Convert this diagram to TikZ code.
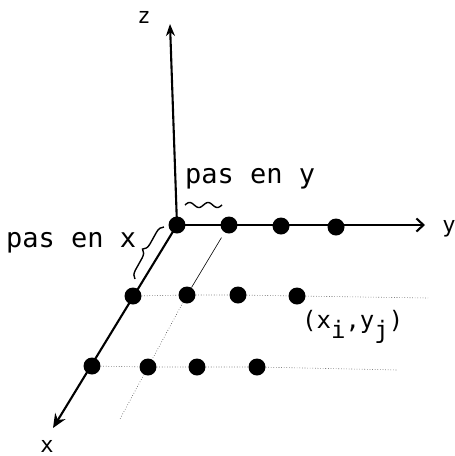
\documentclass[tikz,border=0pt]{standalone}
\usepackage{fontspec}
\setmonofont{DejaVu Sans Mono}
\usetikzlibrary{arrows.meta,decorations.pathreplacing}
\begin{document}
\begin{tikzpicture}[x=1pt,y=-1pt,
  pt/.style={circle,fill=black,inner sep=0pt,minimum size=17pt},
  axis/.style={line width=2.1pt},
  grid/.style={line width=0.6pt,dotted,black!75},
  lbl/.style={inner sep=0pt,font=\ttfamily\fontsize{27}{27}\selectfont},
  clbl/.style={inner sep=0pt,font=\ttfamily\fontsize{24}{24}\selectfont},
  albl/.style={inner sep=0pt,font=\ttfamily\fontsize{22}{22}\selectfont}]
\useasboundingbox (0,0) rectangle (455,456);
% dots
\node[pt] (o)  at (177,225) {};
\node[pt] (a1) at (229,225) {};
\node[pt] (a2) at (281,226) {};
\node[pt] (a3) at (336,227) {};
\node[pt] (b0) at (133,296) {};
\node[pt] (b1) at (187,295) {};
\node[pt] (b2) at (238,295) {};
\node[pt] (b3) at (297,296) {};
\node[pt] (c0) at (92,366) {};
\node[pt] (c1) at (148,367) {};
\node[pt] (c2) at (197,367) {};
\node[pt] (c3) at (257,367) {};
\coordinate (ztip) at (170,24);
\coordinate (ytip) at (425,225);
\coordinate (xtip) at (53,428);
\coordinate (r1end) at (428,298);
\coordinate (r2end) at (398,370);
\coordinate (dtail) at (120,419);
% axes
\draw[axis,-{Stealth[length=12pt,width=9pt]}] (o.center) -- (ztip);
\draw[axis,-{Straight Barb[length=7pt,width=13pt]}] (o.center) -- (ytip);
\draw[axis,-{Stealth[length=14pt,width=12pt]}] (o.center) -- (xtip);
% grid lines
\draw[grid] (b0) -- (b1) -- (b2) -- (b3) -- (r1end);
\draw[grid] (c0) -- (c1) -- (c2) -- (c3) -- (r2end);
\draw[line width=0.6pt,shorten <=6pt] (a1) -- (b1);
\draw[grid] (b1) -- (c1);
\draw[grid] (c1) -- (dtail);
% brace
\draw[line width=1.4pt,decorate,decoration={brace,amplitude=8pt}] (135,279) -- (164,227);
% tilde
\draw[line width=1.4pt] plot[domain=0:37,samples=40,smooth] ({185+\x},{205-2.5*sin(\x*19.5)});
% labels
\node[lbl,anchor=base west] (py) at (185,183) {pas en y};
\node[lbl,anchor=base west] (px) at (6,247) {pas en x};
\node[albl,anchor=base] (zl) at (144,23) {z};
\node[albl,anchor=base] (yl) at (449,232) {y};
\node[albl,anchor=base] (xl) at (47,452) {x};
\node[clbl,anchor=base west] (xy) at (302,328) {(x\raisebox{-10pt}{i},y\raisebox{-10pt}{j})};
\end{tikzpicture}
\end{document}
